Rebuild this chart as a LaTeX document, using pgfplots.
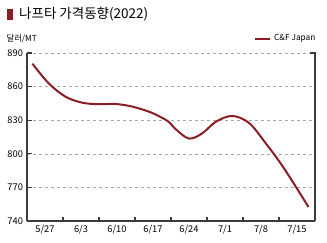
\documentclass[border=0pt]{standalone}
\usepackage{fontspec}
\setmainfont{Noto Sans CJK KR}
\usepackage{pgfplots}
\pgfplotsset{compat=1.18}
\definecolor{naph}{HTML}{8B1E24}
\definecolor{axgray}{RGB}{60,60,60}
\begin{document}
\begin{tikzpicture}
\path[use as bounding box] (-27pt,-21pt) rectangle (300pt,221pt);
\begin{axis}[
  at={(0,0)}, anchor=south west,
  scale only axis, width=288pt, height=168pt,
  xmin=0, xmax=8, ymin=740, ymax=890,
  axis x line*=bottom, axis y line*=left,
  axis line style={axgray, line width=1.3pt, -},
  xtick={0.5,1.5,2.5,3.5,4.5,5.5,6.5,7.5},
  xticklabels={5/27,6/3,6/10,6/17,6/24,7/1,7/8,7/15},
  major x tick style={draw=none},
  minor xtick={1,2,3,4,5,6,7},
  minor tick length=4pt,
  ytick={740,770,800,830,860,890},
  major tick length=5pt,
  tick align=inside,
  tick style={axgray, line width=1.1pt},
  ymajorgrids,
  grid style={gray!70, dashed, line width=0.5pt},
  ticklabel style={font=\fontsize{9.3}{11}\selectfont, text=black},
  /pgf/number format/assume math mode=true,
  xticklabel style={yshift=-0.5pt},
  yticklabel style={xshift=-0.5pt},
  clip=false,
]
\addplot[naph, line width=2pt, smooth, tension=0.55] coordinates {
(0.15,880.5)
(0.6,863)
(1.07,851)
(1.54,845.6)
(2.0,844.3)
(2.46,844.5)
(2.92,842.2)
(3.39,837.6)
(3.67,833.5)
(3.94,828.5)
(4.13,822)
(4.5,813.6)
(4.87,818.3)
(5.24,828.5)
(5.7,833.8)
(6.17,827.5)
(6.63,809.5)
(7.14,787)
(7.82,752.5)
};
\end{axis}
\draw[axgray, line width=1.3pt] (288pt,0pt) -- (288pt,168pt) -- (283pt,168pt);
\fill[naph] (-20pt,201pt) rectangle (-13.5pt,212pt);
\node[anchor=west, inner sep=0pt, font=\fontsize{13.5}{15}\selectfont] at (-8pt,206.5pt) {나프타 가격동향(2022)};
\node[anchor=west, inner sep=0pt, font=\fontsize{8.3}{9}\selectfont] at (-20.5pt,182.5pt) {달러/MT};
\draw[naph, line width=2pt] (228pt,182pt) -- (243pt,182pt);
\node[anchor=west, inner sep=0pt, font=\fontsize{8.3}{9}\selectfont] at (247pt,182.5pt) {C\&F Japan};
\end{tikzpicture}
\end{document}
